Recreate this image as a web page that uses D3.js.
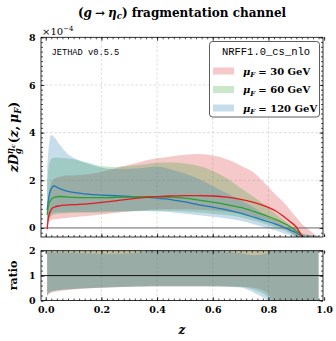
<!DOCTYPE html>
<html>
<head>
<meta charset="utf-8">
<script src="https://cdn.jsdelivr.net/npm/d3@7"></script>
<style>
  body { margin: 0; background: #fff; }
  svg { display: block; }
  text { white-space: pre; }
</style>
</head>
<body>
<div id="chart"></div>
<script>
// z grid shared by all series
const zGrid = [0.005, 0.01, 0.02, 0.03, 0.05, 0.075, 0.1, 0.15, 0.2, 0.25, 0.3, 0.35, 0.4, 0.45,
  0.5, 0.55, 0.6, 0.65, 0.7, 0.75, 0.8, 0.825, 0.85, 0.875, 0.9, 0.925, 0.95, 0.98];

// z D(z, muF) in units of 1e-4 : central, lower and upper band
const mu30 = [-0.05, 0.45, 0.78, 0.87, 0.93, 0.96, 0.98, 1.01, 1.07, 1.14, 1.21, 1.27, 1.31, 1.34,
  1.36, 1.36, 1.34, 1.29, 1.2, 1.06, 0.86, 0.72, 0.52, 0.29, 0.04, -0.45, -1.0, -1.5];
const mu30Lo = [-0.3, 0.2, 0.33, 0.36, 0.39, 0.42, 0.45, 0.5, 0.56, 0.63, 0.69, 0.74, 0.77, 0.78,
  0.78, 0.76, 0.73, 0.68, 0.6, 0.48, 0.3, 0.18, 0.03, -0.15, -0.4, -0.7, -1.0, -1.3];
const mu30Hi = [0.5, 1.3, 1.9, 2.05, 2.15, 2.2, 2.2, 2.25, 2.35, 2.5, 2.65, 2.8, 2.92, 3.0,
  3.07, 3.1, 3.04, 2.88, 2.62, 2.3, 1.72, 1.4, 1.13, 0.8, 0.45, 0.11, -0.12, -0.4];

const mu60 = [0.55, 0.95, 1.2, 1.28, 1.32, 1.3, 1.28, 1.27, 1.27, 1.28, 1.29, 1.31, 1.31, 1.29,
  1.25, 1.17, 1.08, 0.98, 0.86, 0.68, 0.48, 0.36, 0.22, 0.07, -0.12, -0.38, -0.7, -1.0];
const mu60Lo = [0.15, 0.3, 0.5, 0.56, 0.6, 0.62, 0.63, 0.64, 0.65, 0.67, 0.69, 0.71, 0.72, 0.71,
  0.69, 0.65, 0.6, 0.54, 0.45, 0.3, 0.12, 0.02, -0.08, -0.2, -0.35, -0.5, -0.7, -0.9];
const mu60Hi = [1.8, 2.5, 2.9, 2.95, 2.95, 2.92, 2.88, 2.75, 2.6, 2.56, 2.6, 2.66, 2.74, 2.75,
  2.7, 2.6, 2.4, 2.09, 1.68, 1.28, 0.85, 0.6, 0.38, 0.15, -0.05, -0.25, -0.3, -0.35];

const mu120 = [0.75, 1.2, 1.65, 1.76, 1.65, 1.55, 1.49, 1.42, 1.38, 1.35, 1.32, 1.29, 1.25, 1.19,
  1.09, 0.97, 0.87, 0.76, 0.62, 0.44, 0.26, 0.16, 0.05, -0.07, -0.2, -0.38, -0.6, -0.8];
const mu120Lo = [0.2, 0.35, 0.58, 0.65, 0.66, 0.66, 0.67, 0.67, 0.69, 0.7, 0.71, 0.71, 0.69, 0.66,
  0.6, 0.53, 0.47, 0.4, 0.3, 0.14, -0.02, -0.1, -0.2, -0.3, -0.4, -0.5, -0.7, -0.9];
const mu120Hi = [2.4, 3.3, 3.9, 3.82, 3.5, 3.15, 2.95, 2.7, 2.53, 2.47, 2.48, 2.52, 2.58, 2.45,
  2.28, 2.05, 1.75, 1.46, 1.16, 0.84, 0.47, 0.3, 0.14, 0.0, -0.12, -0.25, -0.3, -0.32];

// ratio panel bands
const ratio30Lo = [0.12, 0.25, 0.31, 0.34, 0.38, 0.41, 0.44, 0.48, 0.51, 0.53, 0.55, 0.56, 0.57, 0.57,
  0.57, 0.57, 0.57, 0.56, 0.55, 0.5, 0.25, -0.5, -1, -1, -1, -1, -1, -1];
const ratio30Hi = [2.2, 2.25, 2.3, 2.3, 2.3, 2.3, 2.3, 2.3, 2.3, 2.3, 2.3, 2.3, 2.3, 2.3,
  2.3, 2.3, 2.3, 2.3, 2.3, 2.3, 2.4, 3, 3, 3, 3, 3, 3, 3];
const ratio60Lo = [0.22, 0.31, 0.37, 0.4, 0.43, 0.45, 0.47, 0.5, 0.52, 0.54, 0.55, 0.56, 0.57, 0.57,
  0.57, 0.57, 0.57, 0.56, 0.54, 0.42, 0.1, -0.5, -1, -1, -1, -1, -1, -1];
const ratio60Hi = [2.2, 2.2, 2.2, 2.2, 2.2, 2.2, 2.2, 2.15, 2.05, 2.0, 2.02, 2.05, 2.1, 2.12,
  2.15, 2.2, 2.2, 2.2, 2.2, 2.2, 2.3, 3, 3, 3, 3, 3, 3, 3];
const ratio120Lo = [0.18, 0.29, 0.35, 0.38, 0.41, 0.44, 0.46, 0.49, 0.51, 0.53, 0.55, 0.56, 0.57, 0.57,
  0.57, 0.57, 0.56, 0.55, 0.52, 0.3, -0.1, -1, -1, -1, -1, -1, -1, -1];
const ratio120Hi = [1.95, 1.95, 1.93, 1.93, 1.93, 1.93, 1.92, 1.9, 1.88, 1.88, 1.9, 1.95, 2.05, 2.06,
  2.09, 2.1, 2.01, 1.95, 1.9, 1.82, 1.9, 3, 3, 3, 3, 3, 3, 3];

const muLabels = ["30", "60", "120"];
const xTicks = [0, 0.2, 0.4, 0.6, 0.8, 1.0];
const yTicks = [0, 2, 4, 6, 8];
const ratioTicks = [0, 1, 2];

const W = 336, H = 341;
const serif = "'DejaVu Serif', serif";
const mono = "'Liberation Mono', monospace";
const bandColors = ["#d62728", "#2ca02c", "#1f77b4"];
const lineColors = ["#e41a1c", "#2ca02c", "#1f77b4"];

const series = [
  {c: mu30, lo: mu30Lo, hi: mu30Hi, rlo: ratio30Lo, rhi: ratio30Hi},
  {c: mu60, lo: mu60Lo, hi: mu60Hi, rlo: ratio60Lo, rhi: ratio60Hi},
  {c: mu120, lo: mu120Lo, hi: mu120Hi, rlo: ratio120Lo, rhi: ratio120Hi}
].map((s, i) => ({...s, label: muLabels[i], band: bandColors[i], line: lineColors[i]}));

const svg = d3.select("#chart").append("svg").attr("width", W).attr("height", H);

const L = 41, R = 323;
const x = d3.scaleLinear().domain([-0.017, 0.996]).range([L, R]);
const y = d3.scaleLinear().domain([-0.38, 8]).range([237, 37.3]);
const yr = d3.scaleLinear().domain([0, 2]).range([300.5, 250.7]);

svg.append("clipPath").attr("id", "clipMain")
  .append("rect").attr("x", L).attr("y", y.range()[1]).attr("width", R - L).attr("height", y.range()[0] - y.range()[1]);
svg.append("clipPath").attr("id", "clipRatio")
  .append("rect").attr("x", L).attr("y", yr.range()[1]).attr("width", R - L).attr("height", yr.range()[0] - yr.range()[1]);

// grid
function grid(g, ys, yVals) {
  g.selectAll(".gx").data(xTicks.filter(d => d > 0 && d < 1)).enter().append("line")
    .attr("x1", d => x(d)).attr("x2", d => x(d))
    .attr("y1", ys.range()[0]).attr("y2", ys.range()[1]);
  g.selectAll(".gy").data(yVals).enter().append("line")
    .attr("x1", L).attr("x2", R)
    .attr("y1", d => ys(d)).attr("y2", d => ys(d));
  g.selectAll("line").attr("stroke", "#c8c8c8").attr("stroke-width", 0.6).attr("stroke-dasharray", "2.5,2");
}
grid(svg.append("g"), y, [2, 4, 6]);
grid(svg.append("g"), yr, []);

const clamp = v => Math.max(-5, Math.min(10, v));

// main bands
const mainG = svg.append("g").attr("clip-path", "url(#clipMain)");
series.forEach(s => {
  const area = d3.area().curve(d3.curveMonotoneX)
    .x((d, i) => x(zGrid[i])).y0((d, i) => y(s.lo[i])).y1((d, i) => y(s.hi[i]));
  mainG.append("path").attr("d", area(zGrid)).attr("fill", s.band).attr("fill-opacity", 0.25);
});
mainG.append("line").attr("x1", L).attr("x2", R).attr("y1", y(0)).attr("y2", y(0))
  .attr("stroke", "#666").attr("stroke-width", 1);
series.slice().reverse().forEach(s => {
  const line = d3.line().curve(d3.curveMonotoneX)
    .x((d, i) => x(zGrid[i])).y((d, i) => y(s.c[i]));
  mainG.append("path").attr("d", line(zGrid)).attr("fill", "none")
    .attr("stroke", s.line).attr("stroke-width", 1.3);
});

// ratio bands
const ratioG = svg.append("g").attr("clip-path", "url(#clipRatio)");
series.forEach(s => {
  const area = d3.area().curve(d3.curveMonotoneX)
    .x((d, i) => x(zGrid[i])).y0((d, i) => yr(clamp(s.rlo[i]))).y1((d, i) => yr(clamp(s.rhi[i])));
  ratioG.append("path").attr("d", area(zGrid)).attr("fill", s.band).attr("fill-opacity", 0.25);
});
ratioG.append("line").attr("x1", L).attr("x2", R).attr("y1", yr(1)).attr("y2", yr(1))
  .attr("stroke", "#000").attr("stroke-width", 0.9);

// axes with inward ticks on all four sides
const xMinor = d3.range(0, 1.0001, 0.02).map(v => +v.toFixed(2));
function frame(ys, yMajor, yMinor, showX) {
  const top = ys.range()[1], bot = ys.range()[0];
  const styleAxis = g => {
    g.attr("font-family", serif).attr("font-size", 9.5).attr("font-weight", "bold");
    g.select(".domain").remove();
    g.selectAll("line").attr("stroke", "#000").attr("stroke-width", 0.7);
  };
  svg.append("g").attr("transform", `translate(0,${bot})`)
    .call(d3.axisBottom(x).tickValues(xTicks).tickSize(-3.5).tickPadding(6)
      .tickFormat(showX ? d3.format(".1f") : () => "")).call(styleAxis);
  svg.append("g").attr("transform", `translate(0,${bot})`)
    .call(d3.axisBottom(x).tickValues(xMinor).tickSize(-2).tickFormat(() => "")).call(styleAxis);
  svg.append("g").attr("transform", `translate(0,${top})`)
    .call(d3.axisTop(x).tickValues(xTicks).tickSize(-3.5).tickFormat(() => "")).call(styleAxis);
  svg.append("g").attr("transform", `translate(0,${top})`)
    .call(d3.axisTop(x).tickValues(xMinor).tickSize(-2).tickFormat(() => "")).call(styleAxis);
  svg.append("g").attr("transform", `translate(${L},0)`)
    .call(d3.axisLeft(ys).tickValues(yMajor).tickSize(-3.5).tickPadding(5.5).tickFormat(d3.format("d"))).call(styleAxis);
  svg.append("g").attr("transform", `translate(${L},0)`)
    .call(d3.axisLeft(ys).tickValues(yMinor).tickSize(-2).tickFormat(() => "")).call(styleAxis);
  svg.append("g").attr("transform", `translate(${R},0)`)
    .call(d3.axisRight(ys).tickValues(yMajor).tickSize(-3.5).tickFormat(() => "")).call(styleAxis);
  svg.append("g").attr("transform", `translate(${R},0)`)
    .call(d3.axisRight(ys).tickValues(yMinor).tickSize(-2).tickFormat(() => "")).call(styleAxis);
  svg.append("rect").attr("x", L).attr("y", top).attr("width", R - L).attr("height", bot - top)
    .attr("fill", "none").attr("stroke", "#000").attr("stroke-width", 0.8);
}
frame(y, yTicks, d3.range(-0.2, 8.01, 0.2).map(v => +v.toFixed(1)), false);
frame(yr, ratioTicks, d3.range(0, 2.01, 0.2).map(v => +v.toFixed(1)), true);

// helper: lay out math-like pieces as separate text runs; returns width
function put(g, t, px, dy, size, italic, weight) {
  const el = g.append("text").attr("x", px).attr("y", dy).text(t)
    .attr("font-family", serif).attr("font-size", size)
    .attr("font-style", italic ? "italic" : "normal").attr("font-weight", weight || "bold");
  return el.node().getComputedTextLength();
}

// title
{
  const g = svg.append("g");
  let cx = 0;
  const fs = 12;
  cx += put(g, "(", cx, 0, fs, false);
  cx += put(g, "g", cx, 0, fs, true);
  cx += 3 + put(g, "→", cx + 3, 0, fs, false) + 3;
  cx += put(g, "η", cx, 0, fs, true);
  cx += put(g, "c", cx, 2.5, 8.5, true);
  cx += put(g, ")", cx, 0, fs, false) + 4;
  cx += put(g, "fragmentation channel", cx, 0, fs, false);
  g.attr("transform", `translate(${182 - cx / 2},16.5)`);
}

// x10^-4
{
  const g = svg.append("g").attr("transform", "translate(42,35)");
  const w = put(g, "×10", 0, 0, 10, false, "normal");
  put(g, "−4", w, -4.5, 7, false, "normal");
}

// y label main
{
  const g = svg.append("g");
  const fs = 12.5, ss = 8.5;
  let cx = 0;
  cx += put(g, "z", cx, 0, fs, true);
  cx += put(g, "D", cx, 0, fs, true);
  const s0 = cx;
  let sup = s0 + put(g, "η", s0, -5.5, ss, true);
  sup += put(g, "c", sup, -3.5, 6, true);
  const sub = s0 + put(g, "g", s0, 3, ss, true);
  cx = Math.max(sup, sub) + 1;
  cx += put(g, "(", cx, 0, fs, false);
  cx += put(g, "z", cx, 0, fs, true);
  cx += put(g, ",", cx, 0, fs, false) + 3;
  cx += put(g, "μ", cx, 0, fs, true);
  cx += put(g, "F", cx, 2.5, ss, true);
  cx += put(g, ")", cx, 0, fs, false);
  g.attr("transform", `translate(18,${137 + cx / 2}) rotate(-90)`);
}

// ratio label
svg.append("text").attr("transform", "translate(17,275.5) rotate(-90)")
  .attr("text-anchor", "middle").attr("font-family", serif).attr("font-size", 11)
  .attr("font-weight", "bold").text("ratio");

// x label
svg.append("text").attr("x", 182).attr("y", 334).attr("text-anchor", "middle")
  .attr("font-family", serif).attr("font-size", 12).attr("font-style", "italic")
  .attr("font-weight", "bold").text("z");

// JETHAD tag
svg.append("text").attr("x", 51.5).attr("y", 54.5).attr("font-family", mono)
  .attr("font-size", 8.7).text("JETHAD v0.5.5");

// legend
{
  const lg = svg.append("g");
  lg.append("rect").attr("x", 209.5).attr("y", 41.5).attr("width", 110).attr("height", 75.5)
    .attr("rx", 3).attr("fill", "#fff").attr("stroke", "#333").attr("stroke-width", 0.8);
  lg.append("text").attr("x", 266).attr("y", 55).attr("text-anchor", "middle")
    .attr("font-family", mono).attr("font-size", 10.5).text("NRFF1.0_cs_nlo");
  series.forEach((s, i) => {
    const cy = 71 + i * 18.5;
    lg.append("rect").attr("x", 213).attr("y", cy - 3.5).attr("width", 21).attr("height", 7)
      .attr("fill", s.band).attr("fill-opacity", 0.25);
    const g = lg.append("g").attr("transform", `translate(243,${cy + 3.5})`);
    let cx = 0;
    cx += put(g, "μ", cx, 0, 10, true);
    cx += put(g, "F", cx, 2.5, 7, true) + 3;
    put(g, `= ${s.label} GeV`, cx, 0, 10, false);
  });
}
</script>
</body>
</html>
